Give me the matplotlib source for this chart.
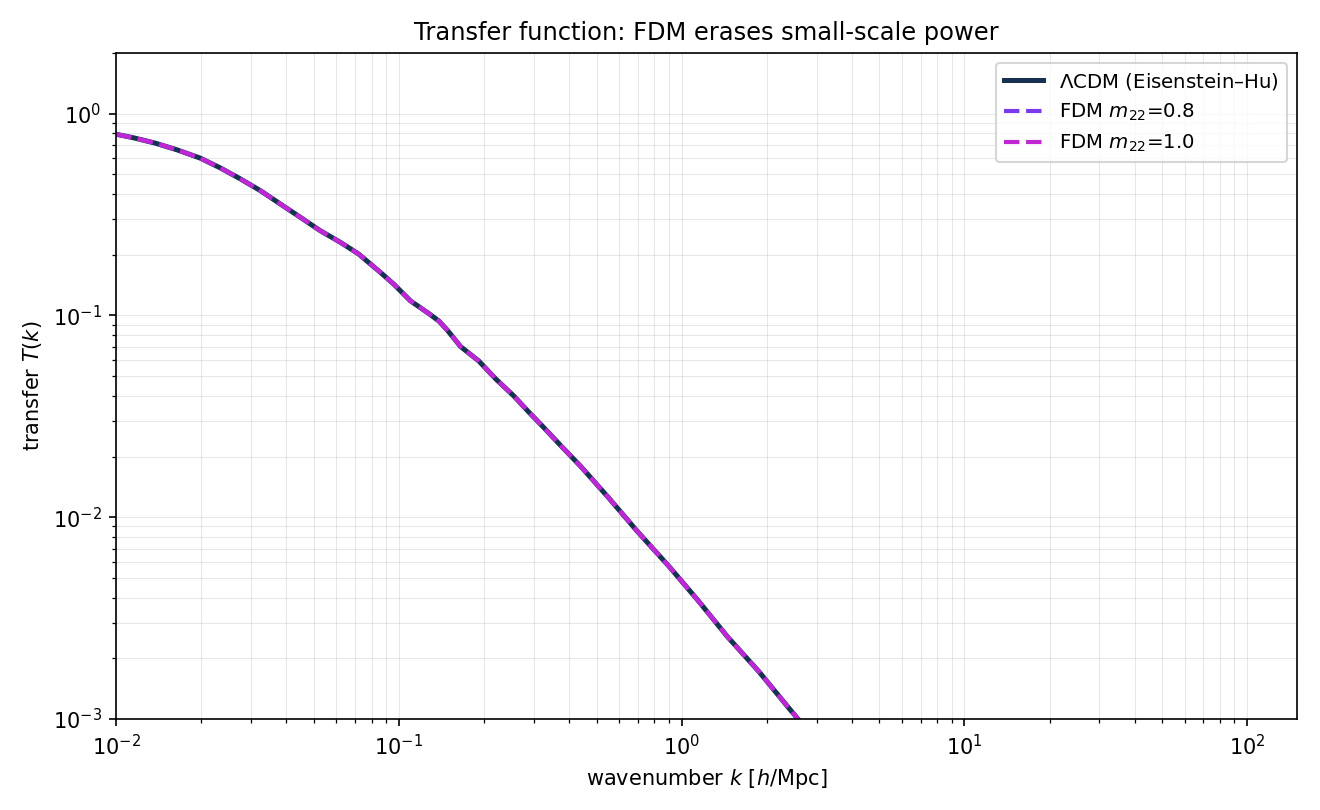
import numpy as np
import matplotlib
matplotlib.use("Agg")
import matplotlib.pyplot as plt

# wavenumbers [h/Mpc] and transfer function
k_vals = [0.0100, 0.01151, 0.01374, 0.01640, 0.01983, 0.02334, 0.02748, 0.03234,
          0.03806, 0.04480, 0.04860, 0.05274, 0.06207, 0.07206, 0.0860, 0.09585,
          0.1098, 0.1275, 0.1383, 0.1481, 0.1651, 0.1916, 0.2196, 0.2549,
          0.2880, 0.3256, 0.3730, 0.4390, 0.5458, 0.6970, 0.9016, 1.137,
          1.451, 1.877, 2.398, 2.568, 3.0]
T_lcdm = [0.791, 0.760, 0.715, 0.6625, 0.6025, 0.539, 0.4755, 0.416,
          0.357, 0.3067, 0.284, 0.263, 0.2305, 0.2016, 0.1635, 0.143,
          0.1182, 0.1023, 0.0940, 0.0848, 0.0702, 0.0595, 0.0486, 0.0399,
          0.0332, 0.0278, 0.0227, 0.0179, 0.01270, 0.00851, 0.00571, 0.00390,
          0.00256, 0.001716, 0.001129, 0.001007, 0.00077]
# FDM curves coincide with LCDM over the visible range
T_fdm08 = list(T_lcdm)
T_fdm10 = list(T_lcdm)

fig, ax = plt.subplots(figsize=(8.8, 5.4), dpi=150)
fig.subplots_adjust(left=0.088, right=0.9826, top=0.9346, bottom=0.1123)

ax.loglog(k_vals, T_lcdm, color='#16324f', lw=2.4, label=r'$\Lambda$CDM (Eisenstein–Hu)')
ax.loglog(k_vals, T_fdm08, color='#7c3aed', lw=2, ls='--', label=r'FDM $m_{22}$=0.8')
ax.loglog(k_vals, T_fdm10, color='#c026d3', lw=2, ls='--', label=r'FDM $m_{22}$=1.0')

ax.set_xlim(1e-2, 150)
ax.set_ylim(1e-3, 2)
ax.set_xlabel(r'wavenumber $k$ [$h$/Mpc]')
ax.set_ylabel(r'transfer $T(k)$')
ax.set_title('Transfer function: FDM erases small-scale power', fontsize=11.6)
ax.grid(True, which='both', alpha=0.3, lw=0.5)
ax.legend(loc='upper right', fontsize=9.5)

fig.savefig('out.png', dpi=150)
